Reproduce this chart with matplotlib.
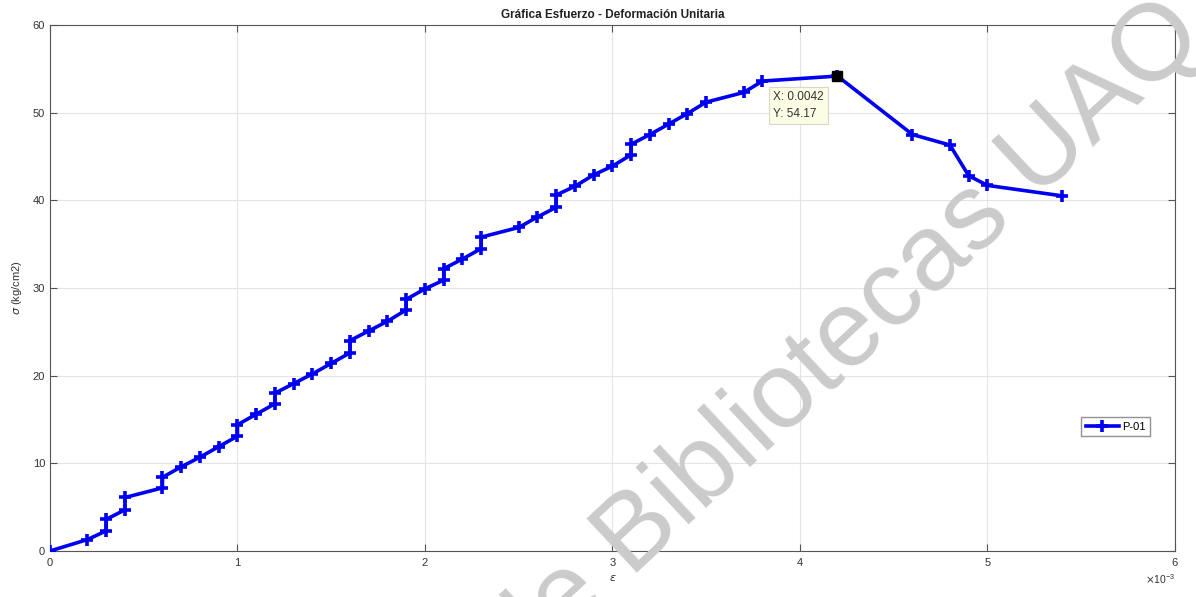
import matplotlib.pyplot as plt
from matplotlib.ticker import ScalarFormatter, MultipleLocator

plt.rcParams['font.family'] = ['Liberation Sans', 'DejaVu Sans']

# strain (unitless) and stress (kg/cm2) for specimen P-01
deformacion = [0.0, 0.0002, 0.0003, 0.0003, 0.0004, 0.0004, 0.0006, 0.0006, 0.0007, 0.0008,
               0.0009, 0.0010, 0.0010, 0.0011, 0.0012, 0.0012, 0.0013, 0.0014, 0.0015, 0.0016,
               0.0016, 0.0017, 0.0018, 0.0019, 0.0019, 0.0020, 0.0021, 0.0021, 0.0022, 0.0023,
               0.0023, 0.0025, 0.0026, 0.0027, 0.0027, 0.0028, 0.0029, 0.0030, 0.0031, 0.0031,
               0.0032, 0.0033, 0.0034, 0.0035, 0.0037, 0.0038, 0.0042, 0.0046, 0.0048, 0.0049,
               0.0050, 0.0054]
esfuerzo = [0.0, 1.3, 2.3, 3.6, 4.7, 6.1, 7.2, 8.4, 9.6, 10.7,
            11.9, 13.1, 14.4, 15.6, 16.8, 18.0, 19.1, 20.2, 21.4, 22.6,
            24.0, 25.1, 26.2, 27.5, 28.7, 29.9, 30.9, 32.2, 33.3, 34.5,
            35.8, 36.9, 38.1, 39.2, 40.6, 41.6, 42.9, 43.9, 45.2, 46.4,
            47.5, 48.7, 49.9, 51.2, 52.3, 53.6, 54.17, 47.5, 46.3, 42.8,
            41.7, 40.5]

fig = plt.figure(figsize=(11.96, 5.97), dpi=100)
ax = fig.add_axes([0.0418, 0.0771, 0.9406, 0.8811])

ax.grid(True, color='#e4e4e4', linewidth=0.8, zorder=0)
ax.set_axisbelow(True)

# watermark, anchored at the end of the string near the top right corner
ax.text(1.010, 0.933, 'Dirección General de Bibliotecas UAQ', fontsize=78,
        color='#cbcbcb', rotation=43, ha='right', va='baseline',
        rotation_mode='anchor', transform=fig.transFigure, clip_on=False,
        zorder=2.6)

ax.plot(deformacion, esfuerzo, color='#0000f0', linewidth=2.6, marker='+',
        markersize=8.5, markeredgewidth=2.6, label='P-01', zorder=3)

# data tip at the peak stress
i_max = esfuerzo.index(max(esfuerzo))
x_max, y_max = deformacion[i_max], esfuerzo[i_max]
ax.plot(x_max, y_max, marker='s', color='black', markersize=7, zorder=4)
ax.annotate(f'X: {x_max:.4f}\nY: {y_max:.2f}', xy=(x_max, y_max),
            xytext=(-64, -15), textcoords='offset pixels', ha='left', va='top',
            fontsize=8.5, color='#333333', linespacing=1.5, zorder=5,
            bbox=dict(boxstyle='square,pad=0.35', facecolor='#fdfde6',
                      edgecolor='#d8d8c8', linewidth=0.8))

ax.set_xlim(0, 0.006)
ax.set_ylim(0, 60)
ax.xaxis.set_major_locator(MultipleLocator(0.001))
ax.yaxis.set_major_locator(MultipleLocator(10))
fmt = ScalarFormatter(useMathText=True)
fmt.set_powerlimits((-3, -3))
ax.xaxis.set_major_formatter(fmt)
ax.xaxis.get_offset_text().set_fontsize(7.5)
ax.xaxis.get_offset_text().set_color('#444444')

for s in ax.spines.values():
    s.set_color('#555555')
    s.set_linewidth(0.8)
ax.tick_params(direction='in', top=True, right=True, length=5, width=0.8,
               colors='#555555', labelcolor='#333333', labelsize=8)

ax.set_title('Gráfica Esfuerzo - Deformación Unitaria', fontsize=8.5,
             fontweight='bold', color='#222222', pad=5)
ax.set_xlabel(r'$\epsilon$', fontsize=8, color='#333333', labelpad=4)
ax.set_ylabel(r'$\sigma$ (kg/cm2)', fontsize=8, color='#333333', labelpad=6)

ax.legend(loc='center right', bbox_to_anchor=(0.983, 0.236), fontsize=8,
          frameon=True, fancybox=False, edgecolor='#777777', handlelength=3,
          borderpad=0.4, handletextpad=0.3)

fig.savefig('out.png', dpi=100)
